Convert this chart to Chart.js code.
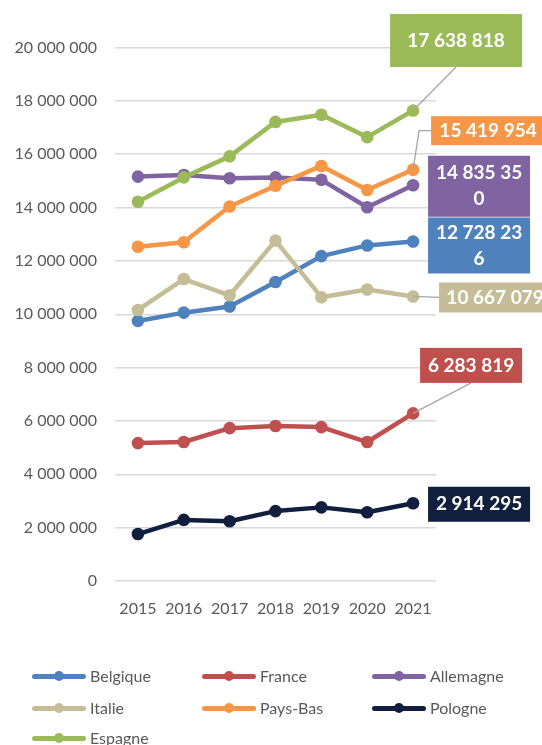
<!DOCTYPE html>
<html>
<head>
<meta charset="utf-8">
<script src="https://cdn.jsdelivr.net/npm/chart.js@4/dist/chart.umd.min.js"></script>
<style>
  html, body { margin: 0; padding: 0; background: #fff; }
  #wrap { position: relative; width: 542px; height: 745px; overflow: hidden; }
  #c { position: absolute; left: 0; top: 0; }
  .lg { position: absolute; font-family: Lato, "Open Sans", sans-serif; font-size: 16px; color: #595959; height: 20px; line-height: 20px; white-space: nowrap; }
  .lg .ln { position: absolute; left: 0; top: 8px; width: 54px; height: 4.5px; border-radius: 3px; }
  .lg .dt { position: absolute; left: 22px; top: 5px; width: 10px; height: 10px; border-radius: 50%; }
  .lg .tx { position: absolute; left: 58px; top: 0; }
</style>
</head>
<body>
<div id="wrap">
  <canvas id="c" width="542" height="745"></canvas>
  <div id="legend"></div>
</div>
<script>
// ---- Data ----
const years = ['2015', '2016', '2017', '2018', '2019', '2020', '2021'];
const countries = ['Belgique', 'France', 'Allemagne', 'Italie', 'Pays-Bas', 'Pologne', 'Espagne'];
const belgique  = [9750000, 10060000, 10290000, 11210000, 12180000, 12580000, 12728236];
const france    = [5170000, 5210000, 5730000, 5810000, 5770000, 5210000, 6283819];
const allemagne = [15160000, 15220000, 15100000, 15130000, 15040000, 14010000, 14835350];
const italie    = [10160000, 11320000, 10710000, 12760000, 10640000, 10930000, 10667079];
const paysBas   = [12530000, 12700000, 14040000, 14820000, 15560000, 14660000, 15419954];
const pologne   = [1760000, 2290000, 2240000, 2620000, 2760000, 2580000, 2914295];
const espagne   = [14220000, 15130000, 15920000, 17210000, 17480000, 16640000, 17638818];
const yTicks = [0, 2000000, 4000000, 6000000, 8000000, 10000000, 12000000, 14000000, 16000000, 18000000, 20000000];

// ---- Styles ----
const colors = ['#4f81bd', '#c0504d', '#8064a2', '#c4bd97', '#f79646', '#0f1f3d', '#9bbb59'];
const series = [belgique, france, allemagne, italie, paysBas, pologne, espagne];

// label box layout relative to the last point: dx = left edge offset, dy = center offset, w, h, wrap chars, leader type
const labelLayout = [
  { dx: 15, dy: 4,   w: 102, h: 56, wrap: 9, leader: 'none' },     // Belgique
  { dx: 7,  dy: -48, w: 102, h: 35, wrap: 0, leader: 'bottom' },   // France
  { dx: 15, dy: 1,   w: 102, h: 61, wrap: 9, leader: 'none' },     // Allemagne
  { dx: 26, dy: 1,   w: 112, h: 30, wrap: 0, leader: 'left' },     // Italie
  { dx: 18, dy: -39, w: 114, h: 29, wrap: 0, leader: 'elbow' },    // Pays-Bas
  { dx: 15, dy: 1,   w: 102, h: 35, wrap: 0, leader: 'none' },     // Pologne
  { dx: -23, dy: -70, w: 132, h: 53, wrap: 0, leader: 'bottom' }   // Espagne
];

function fmt(v) { return String(v).replace(/\B(?=(\d{3})+(?!\d))/g, ' '); }

const labelPlugin = {
  id: 'lastLabels',
  afterDatasetsDraw(chart) {
    const ctx = chart.ctx;
    ctx.save();
    chart.data.datasets.forEach((ds, i) => {
      const meta = chart.getDatasetMeta(i);
      const pt = meta.data[meta.data.length - 1];
      const L = labelLayout[i];
      const left = pt.x + L.dx;
      const cy = pt.y + L.dy;
      const top = cy - L.h / 2;
      // leader line
      ctx.strokeStyle = '#a6a6a6';
      ctx.lineWidth = 1.3;
      ctx.beginPath();
      if (L.leader === 'bottom') {
        ctx.moveTo(pt.x, pt.y);
        ctx.lineTo(left + L.w / 2, top + L.h);
        ctx.stroke();
      } else if (L.leader === 'left') {
        ctx.moveTo(pt.x, pt.y);
        ctx.lineTo(left, cy);
        ctx.stroke();
      } else if (L.leader === 'elbow') {
        ctx.moveTo(pt.x, pt.y);
        ctx.lineTo(left - 12, cy);
        ctx.lineTo(left, cy);
        ctx.stroke();
      }
      // box
      ctx.fillStyle = colors[i];
      ctx.fillRect(left, top, L.w, L.h);
      // text
      const txt = fmt(ds.data[ds.data.length - 1]);
      const lines = L.wrap ? [txt.slice(0, L.wrap), txt.slice(L.wrap)] : [txt];
      ctx.fillStyle = '#ffffff';
      ctx.font = 'bold 19px Lato, "Open Sans", sans-serif';
      ctx.textAlign = 'center';
      ctx.textBaseline = 'middle';
      const lh = 26;
      lines.forEach((ln, k) => {
        ctx.fillText(ln, left + L.w / 2, cy + (k - (lines.length - 1) / 2) * lh);
      });
    });
    ctx.restore();
  }
};

const chart = new Chart(document.getElementById('c'), {
  type: 'line',
  data: {
    labels: years,
    datasets: countries.map((name, i) => ({
      label: name,
      data: series[i],
      borderColor: colors[i],
      backgroundColor: colors[i],
      borderWidth: 4.5,
      pointRadius: 6.3,
      pointHoverRadius: 6.3,
      pointBorderWidth: 0,
      pointBackgroundColor: colors[i],
      borderCapStyle: 'round',
      borderJoinStyle: 'round',
      tension: 0,
      fill: false,
      order: countries.length - i
    }))
  },
  options: {
    responsive: false,
    animation: false,
    devicePixelRatio: 1,
    layout: { padding: { top: 47.5, right: 106, bottom: 124, left: 0 } },
    plugins: { legend: { display: false }, tooltip: { enabled: false } },
    scales: {
      x: {
        offset: true,
        grid: { display: false },
        border: { display: false },
        ticks: { color: '#595959', font: { family: 'Lato', size: 16 }, padding: 10, maxRotation: 0, autoSkip: false },
        afterFit: s => { s.height = 40; }
      },
      y: {
        min: 0,
        max: 20000000,
        afterBuildTicks: s => { s.ticks = yTicks.map(v => ({ value: v })); },
        grid: { color: '#d9d9d9', lineWidth: 1.5, drawTicks: false },
        border: { display: false },
        ticks: { color: '#595959', font: { family: 'Lato', size: 16 }, padding: 18, callback: v => fmt(v) },
        afterFit: s => { s.width = 115; }
      }
    }
  },
  plugins: [labelPlugin]
});

// ---- HTML legend ----
const legendPos = [
  [32, 666], [202, 666], [372, 666],
  [32, 698], [202, 698], [372, 698],
  [32, 728]
];
const lg = document.getElementById('legend');
countries.forEach((name, i) => {
  const d = document.createElement('div');
  d.className = 'lg';
  d.style.left = legendPos[i][0] + 'px';
  d.style.top = legendPos[i][1] + 'px';
  d.innerHTML = '<span class="ln" style="background:' + colors[i] + '"></span>' +
    '<span class="dt" style="background:' + colors[i] + '"></span>' +
    '<span class="tx">' + name + '</span>';
  lg.appendChild(d);
});
</script>
</body>
</html>
